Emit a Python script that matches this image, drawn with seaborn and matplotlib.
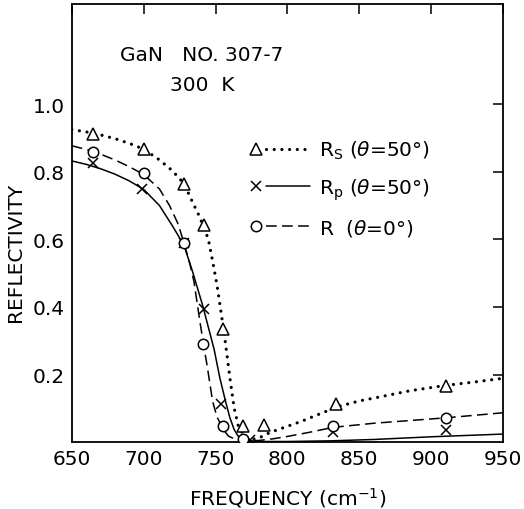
import numpy as np
import pandas as pd
import matplotlib
matplotlib.use('Agg')
import matplotlib.pyplot as plt
import seaborn as sns
from matplotlib.lines import Line2D
from matplotlib.legend_handler import HandlerBase

# fitted curves
rs_x = [650, 660, 670, 680, 690, 700, 711, 720, 728, 734, 738, 742, 745, 748, 751, 754, 757,
        760, 763, 766, 770, 775, 780, 786, 792, 800, 810, 818, 835, 850, 862, 885, 910, 930, 950]
rs_y = [0.925, 0.918, 0.909, 0.898, 0.884, 0.867, 0.835, 0.803, 0.765, 0.710, 0.675, 0.635,
        0.600, 0.535, 0.465, 0.380, 0.290, 0.190, 0.100, 0.045, 0.018, 0.008, 0.012, 0.025,
        0.035, 0.047, 0.062, 0.076, 0.105, 0.122, 0.132, 0.152, 0.168, 0.178, 0.189]

rp_x = [650, 660, 670, 680, 690, 700, 711, 720, 728, 734, 741, 745, 749, 753, 757, 760, 763,
        766, 770, 780, 800, 830, 860, 900, 950]
rp_y = [0.832, 0.822, 0.809, 0.793, 0.773, 0.748, 0.700, 0.640, 0.583, 0.505, 0.405, 0.340,
        0.275, 0.190, 0.120, 0.072, 0.037, 0.016, 0.006, 0.002, 0.002, 0.004, 0.008, 0.016,
        0.024]

r_x = [650, 660, 670, 680, 690, 700, 711, 718, 724, 728, 732, 735, 739, 742, 744, 748, 751,
       755, 759, 764, 770, 780, 790, 800, 815, 832, 860, 885, 910, 950]
r_y = [0.877, 0.866, 0.852, 0.835, 0.815, 0.792, 0.749, 0.700, 0.645, 0.590, 0.530, 0.475,
       0.360, 0.280, 0.230, 0.120, 0.075, 0.040, 0.018, 0.008, 0.004, 0.005, 0.010, 0.017,
       0.029, 0.044, 0.056, 0.064, 0.072, 0.087]

# measured points
rs_px = [665, 700, 728, 742, 755, 769, 784, 834, 910]
rs_py = [0.913, 0.867, 0.765, 0.642, 0.336, 0.048, 0.051, 0.112, 0.167]
rp_px = [665, 699, 728, 742, 754, 774, 832, 910]
rp_py = [0.825, 0.750, 0.589, 0.393, 0.112, 0.007, 0.029, 0.036]
r_px = [665, 700, 728, 741, 755, 769, 832, 910]
r_py = [0.859, 0.796, 0.589, 0.290, 0.048, 0.009, 0.048, 0.071]

labels = [r'R$_\mathregular{S}$ ($\theta$=50°)', r'R$_\mathregular{p}$ ($\theta$=50°)',
          r'R  ($\theta$=0°)']


class MarkerThenLine(HandlerBase):
    # marker at the left end, then a short gap, then the line
    def create_artists(self, legend, orig, xdescent, ydescent, width, height, fontsize, trans):
        y = height / 2 - ydescent
        x0 = -xdescent
        mk = Line2D([x0 + 0.08 * width], [y])
        mk.update_from(orig)
        mk.set_linestyle('None')
        ln = Line2D([x0 + 0.24 * width, x0 + width], [y, y])
        ln.update_from(orig)
        ln.set_marker('None')
        mk.set_transform(trans)
        ln.set_transform(trans)
        return [ln, mk]


sns.set_theme(style='white')
plt.rcParams['font.family'] = ['DejaVu Sans']
plt.rcParams['mathtext.fontset'] = 'dejavusans'
plt.rcParams['text.color'] = 'black'
plt.rcParams['axes.labelcolor'] = 'black'

fig = plt.figure(figsize=(5.24, 5.10), dpi=100)
ax = fig.add_axes([0.137, 0.131, 0.823, 0.859])

dotted = (0, (0.01, 2.4))
dashed = (0, (7, 3.5))

sns.lineplot(x=rs_x, y=rs_y, ax=ax, color='black', lw=2.3, linestyle=dotted,
             dash_capstyle='round', sort=False)
sns.lineplot(x=rp_x, y=rp_y, ax=ax, color='black', lw=1.1, sort=False)
sns.lineplot(x=r_x, y=r_y, ax=ax, color='black', lw=1.1, linestyle=dashed, sort=False)

ax.plot(rs_px, rs_py, ls='none', marker='^', ms=8, mfc='white', mec='black', mew=1.1, zorder=5)
ax.plot(rp_px, rp_py, ls='none', marker='x', ms=6.5, mec='black', mew=1.1, zorder=5)
ax.plot(r_px, r_py, ls='none', marker='o', ms=7.5, mfc='white', mec='black', mew=1.1, zorder=5)

ax.set_xlim(650, 950)
ax.set_ylim(0, 1.296)
ax.set_xticks([650, 700, 750, 800, 850, 900, 950])
ax.set_yticks([0.2, 0.4, 0.6, 0.8, 1.0])
ax.set_yticklabels(['0.2', '0.4', '0.6', '0.8', '1.0'])
ax.tick_params(direction='in', length=7, width=1.1, top=True, right=True,
               labelsize=14.5, colors='black', pad=5)
for s in ax.spines.values():
    s.set_linewidth(1.3)
    s.set_color('black')

ax.set_xlabel(r'FREQUENCY (cm$^{-1}$)', fontsize=14.5)
ax.set_ylabel('REFLECTIVITY', fontsize=14.5)
ax.xaxis.set_label_coords(0.5, -0.097)
ax.yaxis.set_label_coords(-0.109, 0.436)

ax.text(0.111, 0.886, 'GaN   NO. 307-7', transform=ax.transAxes, fontsize=14.5, va='center')
ax.text(0.227, 0.817, '300  K', transform=ax.transAxes, fontsize=14.5, va='center')

handles = [
    Line2D([], [], color='black', lw=2.3, linestyle=dotted, dash_capstyle='round',
           marker='^', ms=8, mfc='white', mec='black', mew=1.1),
    Line2D([], [], color='black', lw=1.1, marker='x', ms=6.5, mec='black', mew=1.1),
    Line2D([], [], color='black', lw=1.1, linestyle=dashed, marker='o', ms=7.5,
           mfc='white', mec='black', mew=1.1),
]
ax.legend(handles, labels, loc='upper left', bbox_to_anchor=(0.384, 0.725), frameon=False,
          handler_map={Line2D: MarkerThenLine()}, handlelength=2.9, handletextpad=0.45,
          labelspacing=0.75, fontsize=14.5, borderpad=0.2)

fig.savefig('out.png', dpi=100)
